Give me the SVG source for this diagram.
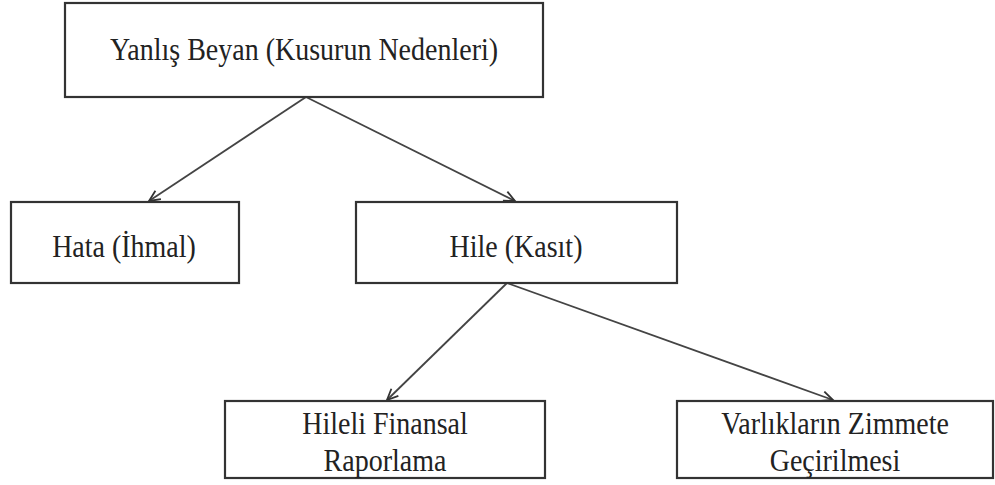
<svg xmlns="http://www.w3.org/2000/svg" width="995" height="485" viewBox="0 0 995 485">
<style>
.box{fill:#fff;stroke:#333;stroke-width:2.2}
.lbl{font-family:"Liberation Serif","Times New Roman",serif;font-size:28px;fill:#222;text-anchor:middle}
.con{stroke:#444;stroke-width:1.8;fill:none}
</style>
<defs>
<marker id="arr" markerUnits="userSpaceOnUse" markerWidth="14" markerHeight="14" refX="12" refY="6" orient="auto">
<path d="M1,1 L12,6 L1,11" fill="none" stroke="#333" stroke-width="1.8"/>
</marker>
</defs>
<rect width="995" height="485" fill="#fff"/>
<g id="connectors">
<line class="con" x1="306" y1="97" x2="149" y2="201" marker-end="url(#arr)"/>
<line class="con" x1="306" y1="97" x2="515" y2="201" marker-end="url(#arr)"/>
<line class="con" x1="507" y1="283" x2="387" y2="400" marker-end="url(#arr)"/>
<line class="con" x1="507" y1="283" x2="833" y2="400" marker-end="url(#arr)"/>
</g>
<g id="node-yanlis-beyan">
<rect class="box" x="65" y="3" width="478" height="94"/>
<text class="lbl" transform="translate(304,60) scale(1,1.15)">Yanlış Beyan (Kusurun Nedenleri)</text>
</g>
<g id="node-hata">
<rect class="box" x="11" y="202" width="228" height="81"/>
<text class="lbl" transform="translate(124,257) scale(1,1.15)">Hata (İhmal)</text>
</g>
<g id="node-hile">
<rect class="box" x="356" y="202" width="321" height="81"/>
<text class="lbl" transform="translate(516,257) scale(1,1.15)">Hile (Kasıt)</text>
</g>
<g id="node-hileli-finansal">
<rect class="box" x="225" y="401" width="320" height="77"/>
<text class="lbl" transform="translate(385,434) scale(1,1.15)">Hileli Finansal</text>
<text class="lbl" transform="translate(385,471) scale(1,1.15)">Raporlama</text>
</g>
<g id="node-varliklarin">
<rect class="box" x="677" y="401" width="316" height="77"/>
<text class="lbl" transform="translate(835,434) scale(1,1.15)">Varlıkların Zimmete</text>
<text class="lbl" transform="translate(835,471) scale(1,1.15)">Geçirilmesi</text>
</g>
</svg>
